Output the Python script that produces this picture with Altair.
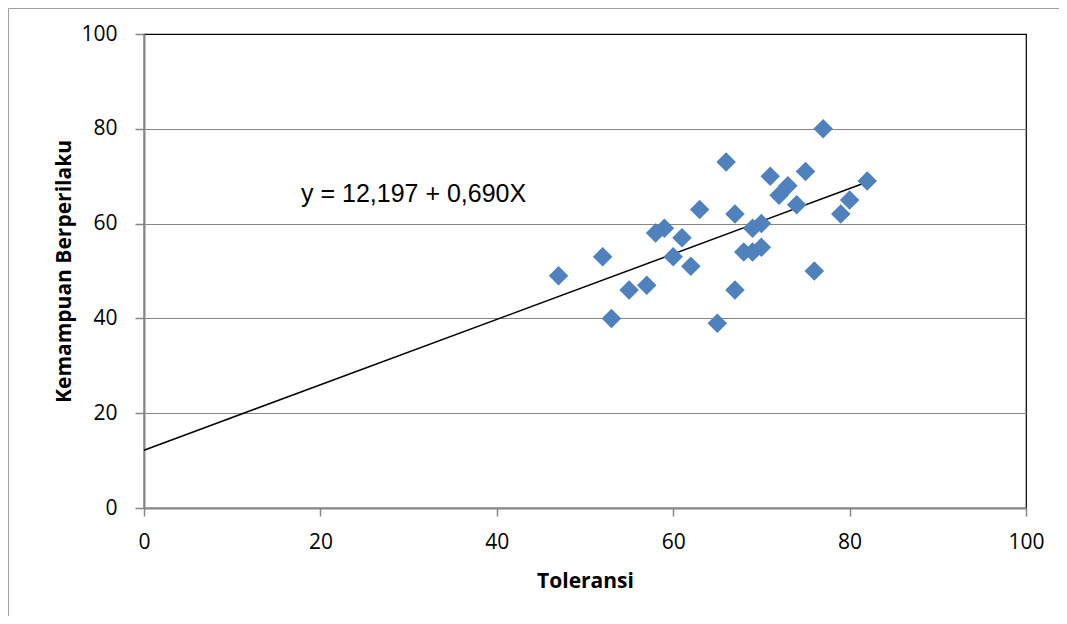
import altair as alt
import pandas as pd

# Data
toleransi = [77, 66, 75, 71, 82, 73, 72, 80, 74, 79, 67, 63, 70, 69, 59,
             58, 61, 60, 52, 62, 68, 69, 70, 47, 76, 57, 55, 67, 53, 65]
kemampuan = [80, 73, 71, 70, 69, 68, 66, 65, 64, 62, 62, 63, 60, 59, 59,
             58, 57, 53, 53, 51, 54, 54, 55, 49, 50, 47, 46, 46, 40, 39]

intercept = 12.197
slope = 0.690
trend_x = [0, 82]
equation_text = "y = 12,197 + 0,690X"
axis_ticks = [0, 20, 40, 60, 80, 100]

pts = pd.DataFrame({"Toleransi": toleransi, "Kemampuan": kemampuan})
trend = pd.DataFrame({"Toleransi": trend_x,
                      "Kemampuan": [intercept + slope * v for v in trend_x]})
one = pd.DataFrame({"a": [0]})

FONT = "Open Sans"
GRAY = "#868686"

x_scale = alt.Scale(domain=[0, 100], nice=False, zero=False)
y_scale = alt.Scale(domain=[0, 100], nice=False, zero=False)

x_axis = alt.Axis(values=axis_ticks, grid=False, title="Toleransi",
                  domainColor=GRAY, domainWidth=2, tickColor=GRAY, tickSize=8,
                  tickWidth=1.5, labelFont=FONT, labelFontSize=21,
                  labelFlush=False,
                  labelColor="black", labelPadding=15, titleFont=FONT,
                  titleFontSize=21, titleFontWeight="bold", titleColor="black",
                  titlePadding=18)
y_axis = alt.Axis(values=axis_ticks, grid=True, title="Kemampuan Berperilaku",
                  gridColor={"condition": {"test": "datum.value === 100", "value": "black"},
                             "value": GRAY},
                  gridWidth=1.2, labelFlush=False,
                  domainColor=GRAY, domainWidth=2, tickColor=GRAY, tickSize=9,
                  tickWidth=1.5, labelFont=FONT, labelFontSize=21,
                  labelColor="black", labelPadding=18, titleFont=FONT,
                  titleFontSize=21, titleFontWeight="bold", titleColor="black",
                  titlePadding=6)

points = alt.Chart(pts).mark_point(shape="diamond", filled=True, size=380,
                                   color="#4F81BD", opacity=1).encode(
    x=alt.X("Toleransi:Q", scale=x_scale, axis=x_axis),
    y=alt.Y("Kemampuan:Q", scale=y_scale, axis=y_axis),
)

line = alt.Chart(trend).mark_line(color="black", strokeWidth=1.5).encode(
    x=alt.X("Toleransi:Q", scale=x_scale),
    y=alt.Y("Kemampuan:Q", scale=y_scale),
)

label = alt.Chart(one).mark_text(align="left", baseline="alphabetic",
                                 font="Liberation Sans", fontSize=25,
                                 color="black").encode(
    x=alt.value(157), y=alt.value(168), text=alt.value(equation_text))

frame_top = alt.Chart(one).mark_rule(color="#a0a0a0", strokeWidth=1).encode(
    x=alt.value(-135.5), x2=alt.value(923), y=alt.value(-25.5))
frame_left = alt.Chart(one).mark_rule(color="#a0a0a0", strokeWidth=1).encode(
    x=alt.value(-135.5), y=alt.value(-25.5), y2=alt.value(590))

chart = alt.layer(line, points, label, frame_top, frame_left).properties(
    width=882, height=474,
    padding={"left": 136, "top": 26, "right": 33, "bottom": 108},
    autosize="none",
).configure_view(stroke="black", strokeWidth=1.2)

chart.save("out.html", embed_options={"renderer": "svg", "actions": False})
